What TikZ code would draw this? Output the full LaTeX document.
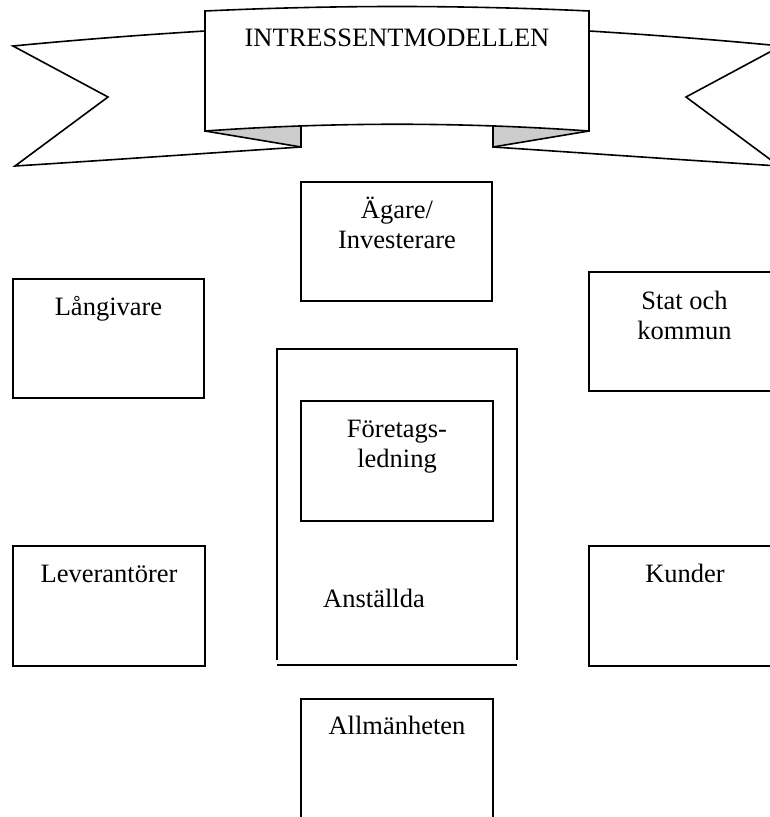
\documentclass[tikz,border=0pt]{standalone}
\usepackage{fontspec}
\setmainfont{Liberation Serif}
\begin{document}
\begin{tikzpicture}[x=1pt,y=-1pt,
  line width=1.6pt,
  box/.style={draw, line width=1.6pt, inner sep=0pt, outer sep=0pt},
  area/.style={inner sep=0pt, outer sep=0pt},
  lbl/.style={font=\fontsize{26.5}{30}\selectfont, inner sep=0pt, anchor=base, align=center},
  foldfill/.style={fill=gray!40, draw=none},
  ]
\useasboundingbox (0,0) rectangle (770,817);
\clip (0,0) rectangle (770,817);

% ---- banner ----
\path[foldfill] (205,131) -- (301,118) -- (301,147) -- cycle;
\path[foldfill] (589,131) -- (493,118) -- (493,147) -- cycle;
\draw (205,31) .. controls (140,35) and (75,40) .. (13,46) -- (108,97) -- (15,166)
      .. controls (110,160) and (210,153) .. (301,147) -- (301,118);
\draw (301,147) -- (205,131);
\draw (589,31) .. controls (654,35) and (719,40) .. (781,46) -- (686,97) -- (779,166)
      .. controls (684,160) and (584,153) .. (493,147) -- (493,118);
\draw (493,147) -- (589,131);
\draw[fill=white] (205,11) .. controls (333,5) and (461,5) .. (589,11) -- (589,131)
      .. controls (461,122) and (333,122) .. (205,131) -- cycle;
\node[lbl] (title) at (397,46) {INTRESSENTMODELLEN};

% ---- boxes ----
\node[box, minimum width=191pt, minimum height=119pt] (agare) at (396.5,241.5) {};
\node[box, minimum width=191pt, minimum height=119pt] (lang) at (108.5,338.5) {};
\node[box, minimum width=191pt, minimum height=119pt] (stat) at (684.5,331.5) {};
\node[box, minimum width=192pt, minimum height=120pt] (lev) at (109,606) {};
\node[box, minimum width=192pt, minimum height=120pt] (kund) at (685,606) {};
\node[box, minimum width=192pt, minimum height=120pt] (fore) at (397,461) {};
\node[box, minimum width=192pt, minimum height=131pt] (allm) at (397,764.5) {};
\node[area, minimum width=240pt, minimum height=316pt] (anst) at (397,507) {};
\draw ([yshift=5pt]anst.south west) -- (anst.north west) -- (anst.north east) -- ([yshift=5pt]anst.south east);
\draw (anst.south west) -- (anst.south east);

% ---- labels (base = baseline of last line) ----
\node[lbl] (tagare) at (397,248) {Ägare/\\Investerare};
\node[lbl] (tlang) at (108.5,315) {Långivare};
\node[lbl] (tstat) at (684.5,339) {Stat och\\kommun};
\node[lbl] (tfore) at (397,467) {Företags-\\ledning};
\node[lbl] (tlev) at (109,582) {Leverantörer};
\node[lbl] (tkund) at (685,582) {Kunder};
\node[lbl] (tanst) at (374,607) {Anställda};
\node[lbl] (tallm) at (397,734) {Allmänheten};
\end{tikzpicture}
\end{document}
